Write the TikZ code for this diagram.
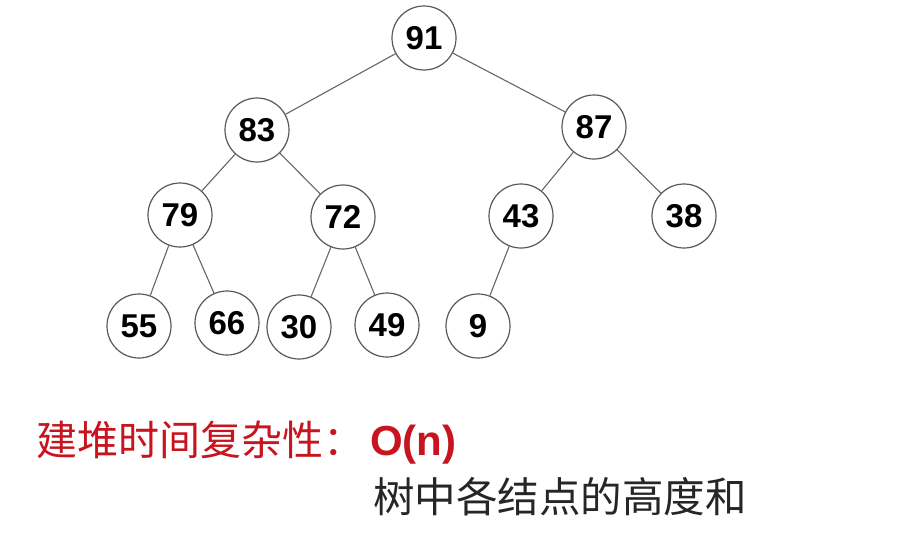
\documentclass[tikz,border=0pt]{standalone}
\usepackage{fontspec}
\setmainfont{Liberation Sans}
\newfontfamily\cjk{Noto Sans CJK SC}
\begin{document}
\begin{tikzpicture}[x=1pt,y=-1pt,
  hn/.style={circle,draw=black!65,line width=1.2pt,minimum size=64pt,inner sep=0pt,font=\fontsize{33}{33}\selectfont\bfseries},
  ed/.style={draw=black!60,line width=1.1pt}]
\useasboundingbox[fill=white] (0,0) rectangle (904,533);
\definecolor{hred}{RGB}{200,20,30}
\node[hn] (n91) at (424,38) {91};
\node[hn] (n83) at (257,130) {83};
\node[hn] (n87) at (594,127) {87};
\node[hn] (n79) at (180,215) {79};
\node[hn] (n72) at (343,217) {72};
\node[hn] (n43) at (521,216) {43};
\node[hn] (n38) at (684,216) {38};
\node[hn] (n55) at (139,326) {55};
\node[hn] (n66) at (227,323) {66};
\node[hn] (n30) at (299,327) {30};
\node[hn] (n49) at (387,325) {49};
\node[hn] (n9) at (478,326) {9};
\draw[ed] (n91)--(n83);
\draw[ed] (n91)--(n87);
\draw[ed] (n83)--(n79);
\draw[ed] (n83)--(n72);
\draw[ed] (n87)--(n43);
\draw[ed] (n87)--(n38);
\draw[ed] (n79)--(n55);
\draw[ed] (n79)--(n66);
\draw[ed] (n72)--(n30);
\draw[ed] (n72)--(n49);
\draw[ed] (n43)--(n9);
\node[anchor=west,inner sep=0pt,text=hred] (t1) at (36,443) {\cjk\fontsize{41}{41}\selectfont 建堆时间复杂性：\kern6pt{\rmfamily\bfseries\fontsize{42}{42}\selectfont O(n)}};
\node[anchor=west,inner sep=0pt,text=black!85] (t2) at (373,497) {\cjk\fontsize{41.5}{41.5}\selectfont 树中各结点的高度和};
\end{tikzpicture}
\end{document}
